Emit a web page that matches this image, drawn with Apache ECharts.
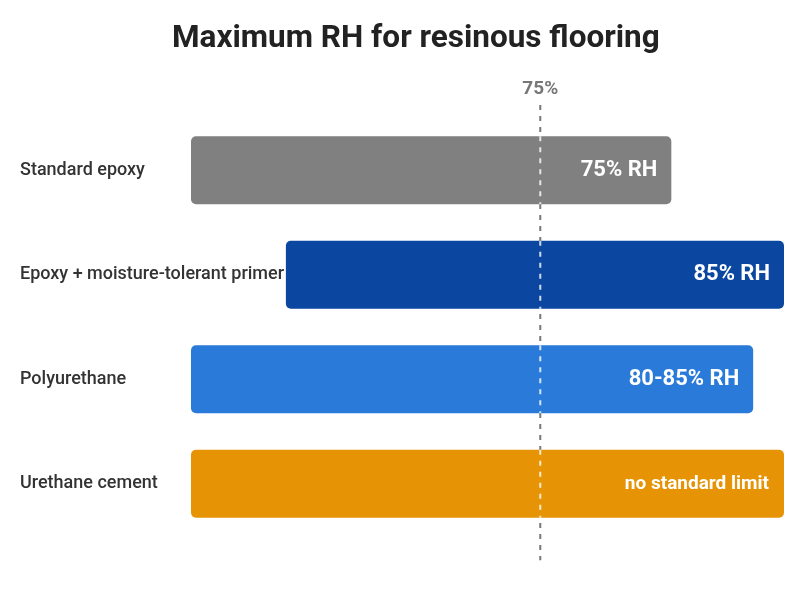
<!DOCTYPE html>
<html>
<head>
<meta charset="utf-8">
<script src="https://cdn.jsdelivr.net/npm/echarts@6/dist/echarts.min.js"></script>
<style>
  html, body { margin: 0; padding: 0; background: #ffffff; }
  #chart { width: 800px; height: 600px; }
</style>
</head>
<body>
<div id="chart"></div>
<script>
// ---- data (horizontal scale 0-100 across the bar area) ----
const categories = ['Standard epoxy', 'Epoxy + moisture-tolerant primer', 'Polyurethane', 'Urethane cement'];
const barStarts = [0, 16, 0, 0];
const barEnds = [81, 100, 94.8, 100];
const barLabels = ['75% RH', '85% RH', '80-85% RH', 'no standard limit'];
const barColors = ['#808080', '#0b47a1', '#2a7ad9', '#e69406'];
const markerValue = 58.9;
const markerLabel = '75%';
const markerSpan = [1.031, -0.058]; // top / bottom of the dashed line on a 0..1 vertical scale

const FONT = 'Roboto, "Noto Sans", sans-serif';

const chart = echarts.init(document.getElementById('chart'), null, { renderer: 'canvas' });

const option = {
  backgroundColor: '#ffffff',
  animation: false,
  title: {
    text: 'Maximum RH for resinous flooring',
    left: 167,
    top: 18,
    textStyle: { fontFamily: FONT, fontSize: 31.5, fontWeight: 'bold', color: '#222222' }
  },
  grid: { left: 191, right: 16, top: 118, bottom: 64, containLabel: false },
  xAxis: { type: 'value', min: 0, max: 100, show: false },
  yAxis: [
    {
      type: 'category',
      data: categories,
      inverse: true,
      axisLine: { show: false },
      axisTick: { show: false },
      splitLine: { show: false },
      axisLabel: {
        align: 'left',
        margin: 171,
        padding: [4, 0, 0, 0],
        fontFamily: FONT,
        fontSize: 18,
        fontWeight: 500,
        color: '#333333'
      }
    },
    { type: 'value', min: 0, max: 1, show: false }
  ],
  series: [
    {
      type: 'line',
      yAxisIndex: 1,
      z: 1,
      clip: false,
      symbol: 'circle',
      symbolSize: 0,
      showSymbol: true,
      silent: true,
      lineStyle: { color: '#777777', width: 2, type: [5, 6] },
      label: { show: false },
      data: [
        { value: [markerValue, markerSpan[0]], label: {
            show: true, position: 'top', distance: 6, formatter: markerLabel,
            fontFamily: FONT, fontSize: 19, fontWeight: 'bold', color: '#777777' } },
        { value: [markerValue, markerSpan[1]] }
      ]
    },
    {
      type: 'bar',
      stack: 'rh',
      z: 2,
      silent: true,
      barWidth: '65%',
      itemStyle: { color: 'rgba(0,0,0,0)' },
      data: barStarts
    },
    {
      type: 'bar',
      stack: 'rh',
      z: 2,
      barWidth: '65%',
      data: barEnds.map((e, i) => ({
        value: e - barStarts[i],
        itemStyle: { color: barColors[i], borderRadius: 5 },
        label: i === 3 ? { fontSize: 19, distance: 15 } : {}
      })),
      label: {
        show: true,
        position: 'insideRight',
        distance: 14,
        padding: [4, 0, 0, 0],
        formatter: p => barLabels[p.dataIndex],
        fontFamily: FONT,
        fontSize: 22,
        fontWeight: 'bold',
        color: '#ffffff'
      }
    },
    {
      type: 'custom',
      z: 3,
      silent: true,
      data: categories.map((c, i) => [markerValue, i]),
      renderItem: function (params, api) {
        const p = api.coord([api.value(0), api.value(1)]);
        const h = api.size([0, 1])[1] * 0.65;
        return {
          type: 'line',
          shape: { x1: p[0], y1: p[1] - h / 2, x2: p[0], y2: p[1] + h / 2 },
          style: { stroke: 'rgba(255,255,255,0.8)', lineWidth: 2, lineDash: [5, 6] }
        };
      }
    }
  ]
};

chart.setOption(option);
</script>
</body>
</html>
